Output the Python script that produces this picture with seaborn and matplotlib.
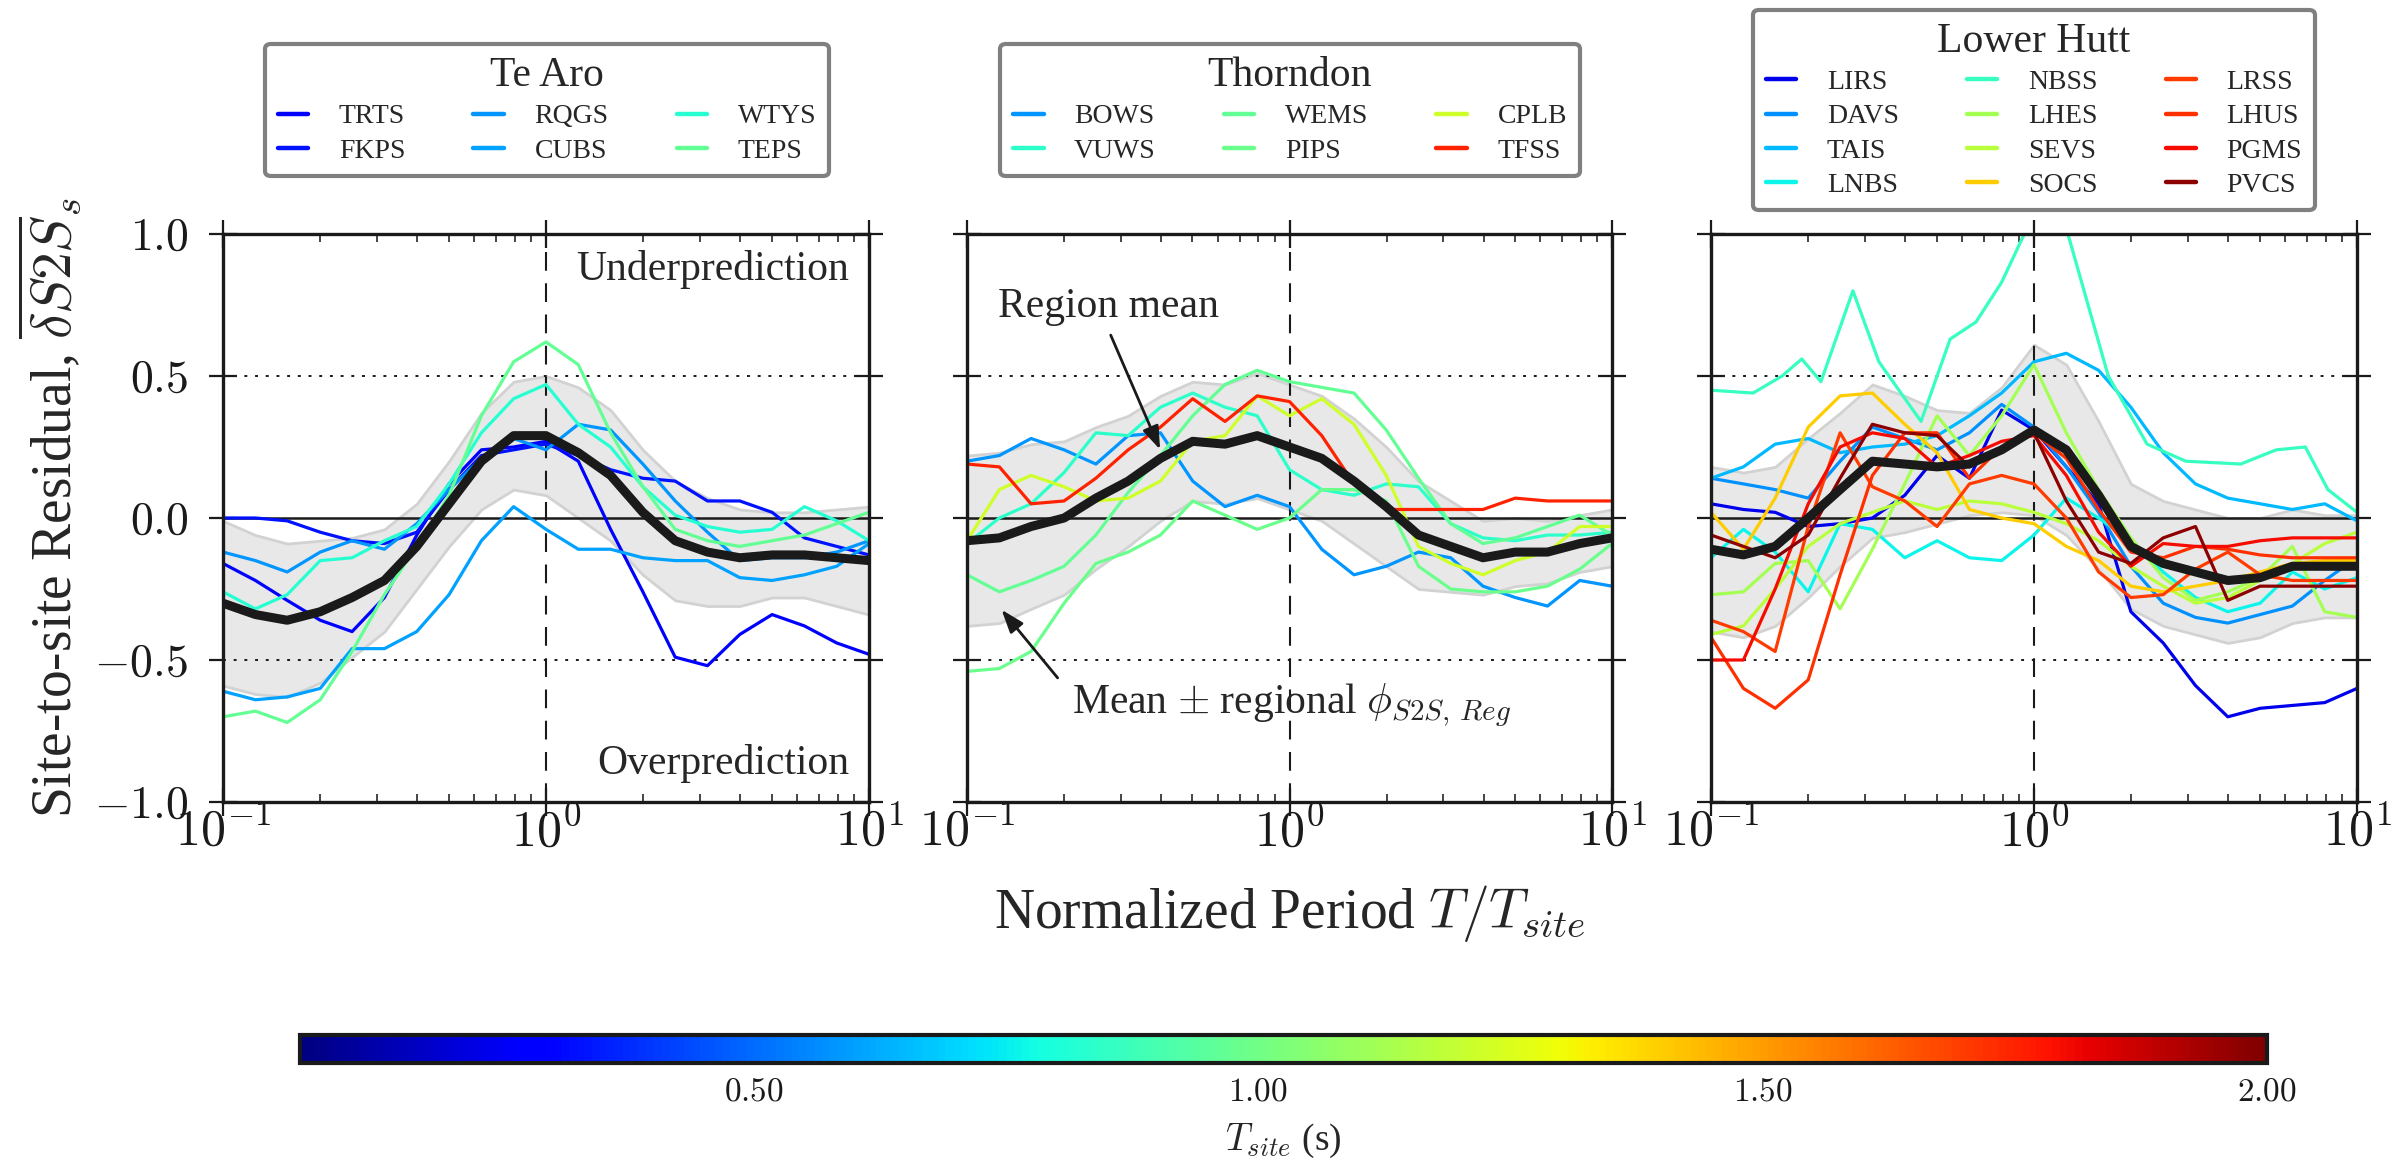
import numpy as np
import pandas as pd
import matplotlib
matplotlib.use("Agg")
import matplotlib.pyplot as plt
import seaborn as sns
from matplotlib.lines import Line2D
from matplotlib.colors import Normalize
from matplotlib.ticker import LogLocator, NullFormatter

sns.set_theme(style="ticks")
plt.rcParams["font.family"] = ["Liberation Serif", "DejaVu Serif"]
plt.rcParams["mathtext.fontset"] = "cm"

# Normalized period T/T_site at which the residuals are sampled
norm_period = [0.100, 0.126, 0.158, 0.200, 0.251, 0.316, 0.398, 0.501, 0.631, 0.794,
               1.000, 1.259, 1.585, 1.995, 2.512, 3.162, 3.981, 5.012, 6.310, 7.943, 10.00]

# ---- Te Aro ----
te_aro_names = ["TRTS", "FKPS", "RQGS", "CUBS", "WTYS", "TEPS"]
te_aro_tsite = [0.27, 0.33, 0.58, 0.60, 0.82, 0.97]
TRTS = [-0.16, -0.22, -0.29, -0.36, -0.40, -0.28, -0.06, 0.12, 0.24, 0.25, 0.27, 0.20, -0.04, -0.26, -0.49, -0.52, -0.41, -0.34, -0.38, -0.44, -0.48]
FKPS = [0.00, 0.00, -0.01, -0.05, -0.08, -0.09, -0.05, 0.10, 0.22, 0.24, 0.26, 0.22, 0.17, 0.14, 0.13, 0.06, 0.06, 0.02, -0.07, -0.10, -0.13]
RQGS = [-0.12, -0.15, -0.19, -0.12, -0.08, -0.11, -0.02, 0.10, 0.21, 0.28, 0.24, 0.33, 0.31, 0.19, 0.06, -0.05, -0.15, -0.14, -0.14, -0.12, -0.08]
CUBS = [-0.61, -0.64, -0.63, -0.60, -0.46, -0.46, -0.40, -0.27, -0.08, 0.04, -0.04, -0.11, -0.11, -0.14, -0.15, -0.15, -0.21, -0.22, -0.20, -0.17, -0.09]
WTYS = [-0.26, -0.32, -0.27, -0.15, -0.14, -0.08, -0.03, 0.12, 0.30, 0.42, 0.47, 0.33, 0.25, 0.11, 0.01, -0.03, -0.05, -0.04, 0.04, -0.01, -0.08]
TEPS = [-0.70, -0.68, -0.72, -0.64, -0.47, -0.27, -0.10, 0.08, 0.36, 0.55, 0.62, 0.54, 0.30, 0.11, -0.04, -0.08, -0.10, -0.08, -0.06, -0.02, 0.02]
te_aro_mean = [-0.30, -0.34, -0.36, -0.33, -0.28, -0.22, -0.10, 0.05, 0.20, 0.29, 0.29, 0.23, 0.15, 0.02, -0.08, -0.12, -0.14, -0.13, -0.13, -0.14, -0.15]
te_aro_phi = [0.29, 0.28, 0.27, 0.25, 0.21, 0.18, 0.15, 0.15, 0.17, 0.19, 0.21, 0.23, 0.23, 0.22, 0.21, 0.19, 0.17, 0.15, 0.15, 0.17, 0.19]

# ---- Thorndon ----
thorndon_names = ["BOWS", "VUWS", "WEMS", "PIPS", "CPLB", "TFSS"]
thorndon_tsite = [0.58, 0.84, 0.97, 0.98, 1.22, 1.75]
BOWS = [0.20, 0.22, 0.28, 0.24, 0.19, 0.29, 0.30, 0.13, 0.04, 0.08, 0.04, -0.11, -0.20, -0.17, -0.12, -0.14, -0.24, -0.28, -0.31, -0.22, -0.24]
VUWS = [-0.09, 0.00, 0.05, 0.16, 0.30, 0.29, 0.39, 0.44, 0.39, 0.36, 0.17, 0.10, 0.08, 0.12, 0.11, -0.02, -0.07, -0.08, -0.06, -0.06, -0.05]
WEMS = [-0.20, -0.26, -0.22, -0.17, -0.06, 0.09, 0.22, 0.36, 0.47, 0.52, 0.48, 0.46, 0.44, 0.31, 0.14, -0.02, -0.09, -0.07, -0.03, 0.01, -0.06]
PIPS = [-0.54, -0.53, -0.47, -0.30, -0.16, -0.12, -0.06, 0.06, 0.01, -0.04, 0.00, 0.10, 0.10, 0.06, -0.17, -0.25, -0.26, -0.26, -0.24, -0.18, -0.09]
CPLB = [-0.08, 0.10, 0.15, 0.11, 0.06, 0.07, 0.13, 0.27, 0.29, 0.43, 0.36, 0.42, 0.33, 0.15, -0.10, -0.16, -0.20, -0.15, -0.12, -0.03, -0.03]
TFSS = [0.19, 0.18, 0.05, 0.06, 0.14, 0.24, 0.32, 0.42, 0.34, 0.43, 0.41, 0.29, 0.12, 0.03, 0.03, 0.03, 0.03, 0.07, 0.06, 0.06, 0.06]
thorndon_mean = [-0.08, -0.07, -0.03, 0.00, 0.07, 0.13, 0.21, 0.27, 0.26, 0.29, 0.25, 0.21, 0.13, 0.04, -0.06, -0.10, -0.14, -0.12, -0.12, -0.09, -0.07]
thorndon_phi = [0.30, 0.30, 0.29, 0.27, 0.25, 0.23, 0.22, 0.21, 0.21, 0.22, 0.22, 0.22, 0.22, 0.21, 0.19, 0.16, 0.13, 0.12, 0.11, 0.10, 0.10]

# ---- Lower Hutt ----
lower_hutt_names = ["LIRS", "DAVS", "TAIS", "LNBS", "NBSS", "LHES", "SEVS", "SOCS",
                    "LRSS", "LHUS", "PGMS", "PVCS"]
lower_hutt_tsite = [0.24, 0.57, 0.65, 0.76, 0.86, 1.12, 1.17, 1.40, 1.70, 1.72, 1.80, 1.97]
LIRS = [0.05, 0.03, 0.02, -0.03, -0.02, 0.00, 0.08, 0.22, 0.14, 0.38, 0.31, 0.18, 0.05, -0.33, -0.44, -0.59, -0.70, -0.67, -0.66, -0.65, -0.60]
DAVS = [0.14, 0.12, 0.10, 0.07, 0.20, 0.32, 0.28, 0.24, 0.30, 0.40, 0.32, 0.18, 0.02, -0.17, -0.30, -0.35, -0.37, -0.34, -0.31, -0.22, -0.14]
TAIS = [0.14, 0.18, 0.26, 0.28, 0.23, 0.25, 0.26, 0.29, 0.36, 0.44, 0.55, 0.58, 0.52, 0.39, 0.23, 0.12, 0.07, 0.05, 0.03, 0.05, -0.01]
LNBS = [-0.14, -0.04, -0.12, -0.26, -0.02, -0.04, -0.14, -0.08, -0.14, -0.15, -0.06, 0.07, 0.00, -0.08, -0.19, -0.28, -0.33, -0.30, -0.19, -0.25, -0.21]
# NBSS is sampled more densely around its sharp peaks
NBSS_period = [0.100, 0.135, 0.166, 0.191, 0.219, 0.275, 0.331, 0.447, 0.550, 0.661, 0.794,
               0.933, 1.072, 1.259, 1.698, 2.239, 2.951, 4.365, 5.623, 6.918, 8.128, 10.00]
NBSS = [0.45, 0.44, 0.50, 0.56, 0.48, 0.80, 0.55, 0.34, 0.63, 0.69, 0.83,
        1.00, 1.25, 1.02, 0.50, 0.26, 0.20, 0.19, 0.24, 0.25, 0.10, 0.02]
LHES = [-0.27, -0.26, -0.16, -0.15, -0.32, -0.11, 0.12, 0.36, 0.22, 0.36, 0.54, 0.30, 0.10, -0.07, -0.21, -0.29, -0.26, -0.21, -0.10, -0.33, -0.35]
SEVS = [-0.41, -0.38, -0.25, -0.10, -0.02, 0.02, 0.06, 0.03, 0.06, 0.05, 0.02, -0.02, -0.08, -0.17, -0.24, -0.30, -0.28, -0.22, -0.16, -0.09, -0.05]
SOCS = [0.02, -0.11, 0.07, 0.32, 0.43, 0.44, 0.33, 0.23, 0.03, 0.00, -0.02, -0.10, -0.15, -0.24, -0.26, -0.24, -0.22, -0.19, -0.16, -0.15, -0.15]
LRSS = [-0.36, -0.40, -0.47, -0.03, 0.30, 0.11, 0.06, -0.03, 0.12, 0.15, 0.12, 0.00, -0.19, -0.28, -0.27, -0.18, -0.12, -0.20, -0.22, -0.22, -0.22]
LHUS = [-0.42, -0.60, -0.67, -0.57, -0.20, 0.15, 0.30, 0.30, 0.14, 0.25, 0.30, 0.21, 0.03, -0.12, -0.14, -0.10, -0.11, -0.13, -0.14, -0.14, -0.14]
PGMS = [-0.50, -0.50, -0.25, 0.05, 0.25, 0.30, 0.28, 0.18, 0.22, 0.27, 0.29, 0.15, -0.05, -0.17, -0.09, -0.10, -0.10, -0.08, -0.07, -0.07, -0.07]
PVCS = [-0.06, -0.10, -0.14, -0.06, 0.14, 0.33, 0.30, 0.29, 0.18, 0.24, 0.30, 0.06, -0.12, -0.16, -0.07, -0.03, -0.29, -0.24, -0.24, -0.24, -0.24]
lower_hutt_mean = [-0.11, -0.13, -0.10, 0.00, 0.10, 0.20, 0.19, 0.18, 0.19, 0.24, 0.31, 0.24, 0.08, -0.10, -0.16, -0.19, -0.22, -0.21, -0.17, -0.17, -0.17]
lower_hutt_phi = [0.29, 0.29, 0.28, 0.28, 0.27, 0.27, 0.24, 0.20, 0.18, 0.22, 0.30, 0.30, 0.26, 0.22, 0.22, 0.22, 0.22, 0.21, 0.20, 0.18, 0.18]

y_ticks = [-1.0, -0.5, 0.0, 0.5, 1.0]
y_tick_labels = [r"$-1.0$", r"$-0.5$", r"$0.0$", r"$0.5$", r"$1.0$"]
x_ticks = [0.1, 1.0, 10.0]
x_tick_labels = [r"$10^{-1}$", r"$10^{0}$", r"$10^{1}$"]
cbar_ticks = [0.5, 1.0, 1.5, 2.0]
cbar_tick_labels = [r"$0.50$", r"$1.00$", r"$1.50$", r"$2.00$"]

cmap = plt.get_cmap("jet")
norm = Normalize(vmin=0.05, vmax=2.0)

W, H = 2394, 1161
fig = plt.figure(figsize=(W / 100, H / 100), dpi=100)


def fig_box(x0, x1, y_top, y_bot):
    return [x0 / W, 1 - y_bot / H, (x1 - x0) / W, (y_bot - y_top) / H]


G = norm_period
regions = [
    ("Te Aro", te_aro_names, te_aro_tsite,
     [(G, TRTS), (G, FKPS), (G, RQGS), (G, CUBS), (G, WTYS), (G, TEPS)],
     te_aro_mean, te_aro_phi, 223, 869, 547),
    ("Thorndon", thorndon_names, thorndon_tsite,
     [(G, BOWS), (G, VUWS), (G, WEMS), (G, PIPS), (G, CPLB), (G, TFSS)],
     thorndon_mean, thorndon_phi, 967, 1612, 1290),
    ("Lower Hutt", lower_hutt_names, lower_hutt_tsite,
     [(G, LIRS), (G, DAVS), (G, TAIS), (G, LNBS), (NBSS_period, NBSS), (G, LHES),
      (G, SEVS), (G, SOCS), (G, LRSS), (G, LHUS), (G, PGMS), (G, PVCS)],
     lower_hutt_mean, lower_hutt_phi, 1711, 2357, 2034),
]

axes = []
for i, (title, names, tsite, series, mean, phi, x0, x1, leg_cx) in enumerate(regions):
    ax = fig.add_axes(fig_box(x0, x1, 234, 802))
    axes.append(ax)
    period = np.array(norm_period)
    mean = np.array(mean)
    phi = np.array(phi)

    # regional mean +/- phi_S2S band
    ax.fill_between(period, mean - phi, mean + phi, facecolor="#e8e8e8",
                    edgecolor="#d2d2d2", lw=2.0, zorder=1)

    ax.axhline(0.0, color="k", lw=1.8, zorder=2)
    for yv in (-0.5, 0.5):
        ax.axhline(yv, color="k", lw=1.4, ls=(0, (1.5, 4)), zorder=2)
    ax.axvline(1.0, color="k", lw=1.5, ls=(0, (9, 6)), zorder=2)

    df = pd.concat([
        pd.DataFrame({"period": p, "residual": r, "station": n})
        for n, (p, r) in zip(names, series)
    ], ignore_index=True)
    palette = {n: cmap(norm(t)) for n, t in zip(names, tsite)}
    sns.lineplot(data=df, x="period", y="residual", hue="station", hue_order=names,
                 palette=palette, estimator=None, sort=False, lw=2.3,
                 legend=False, ax=ax, zorder=3)
    sns.lineplot(x=period, y=mean, color="k", lw=6.5, ax=ax, zorder=5)

    ax.set_xscale("log")
    ax.set_xlim(0.1, 10)
    ax.set_ylim(-1, 1)
    ax.set_xlabel("")
    ax.set_ylabel("")
    ax.set_xticks(x_ticks)
    ax.set_xticklabels(x_tick_labels)
    ax.xaxis.set_minor_locator(LogLocator(base=10, subs=np.arange(2, 10)))
    ax.xaxis.set_minor_formatter(NullFormatter())
    ax.set_yticks(y_ticks)
    ax.set_yticklabels(y_tick_labels if i == 0 else [])
    ax.tick_params(which="major", direction="inout", length=20, width=1.6,
                   top=True, right=True, bottom=True, left=True, colors="k")
    ax.tick_params(axis="x", which="major", labelsize=36, pad=-6)
    ax.tick_params(axis="y", which="major", labelsize=33, pad=15)
    ax.tick_params(axis="x", which="minor", direction="in", length=6, width=1.2,
                   top=True, bottom=True)
    for sp in ax.spines.values():
        sp.set_color("k")
        sp.set_linewidth(2.4)
        sp.set_zorder(6)

    handles = [Line2D([], [], color=palette[n], lw=3.2) for n in names]
    leg = fig.legend(handles, names, title=title, ncol=3, loc="center",
                     bbox_to_anchor=(leg_cx / W, 1 - 110 / H),
                     fontsize=20, title_fontsize=30, handlelength=1.1,
                     handletextpad=1.1, columnspacing=2.45, labelspacing=0.32,
                     borderpad=0.45, frameon=True, fancybox=True, framealpha=1,
                     edgecolor="0.5")
    leg.get_frame().set_linewidth(3)

# annotations
ax0, ax1 = axes[0], axes[1]
ax0.text(8.7, 0.837, "Underprediction", ha="right", va="baseline", fontsize=30)
ax0.text(8.7, -0.903, "Overprediction", ha="right", va="baseline", fontsize=30)

arrow = dict(arrowstyle="-|>,head_length=0.7,head_width=0.25", color="k", lw=2,
             mutation_scale=20, shrinkA=0, shrinkB=0)
ax1.text(0.275, 0.744, "Region mean", ha="center", va="center", fontsize=30, zorder=7)
ax1.annotate("", xy=(0.397, 0.241), xytext=(0.279, 0.644), arrowprops=arrow, zorder=7)
ax1.text(1.015, -0.656, r"Mean $\pm$ regional $\phi_{S2S,\,Reg}$", ha="center",
         va="center", fontsize=30, zorder=7)
ax1.annotate("", xy=(0.128, -0.323), xytext=(0.191, -0.563), arrowprops=arrow, zorder=7)

fig.text(50 / W, 1 - 508 / H, r"Site-to-site Residual, $\overline{\delta S2S}_s$",
         rotation=90, ha="center", va="center", fontsize=40)
fig.text(1290 / W, 1 - 913 / H, r"Normalized Period $T/T_{site}$", ha="center",
         va="center", fontsize=40)

# colour bar for the site period
cax = fig.add_axes(fig_box(300, 2267, 1035, 1063))
sm = plt.cm.ScalarMappable(norm=norm, cmap=cmap)
cb = fig.colorbar(sm, cax=cax, orientation="horizontal")
cb.set_ticks(cbar_ticks)
cb.set_ticklabels(cbar_tick_labels)
cb.ax.tick_params(direction="in", length=9, width=1.0, labelsize=24, pad=10,
                  colors="k")
cb.outline.set_linewidth(3)
cb.outline.set_edgecolor("k")
cb.set_label(r"$T_{site}$ (s)", fontsize=27, labelpad=10)

fig.savefig("out.png", dpi=100, facecolor="white")
